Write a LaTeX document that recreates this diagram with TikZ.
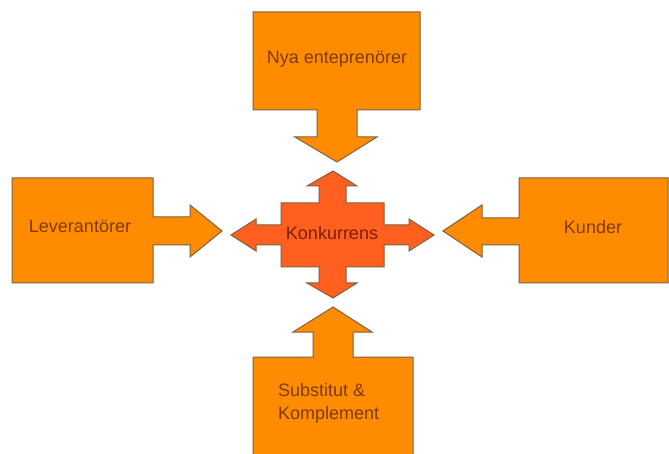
\documentclass[tikz,border=0pt]{standalone}
\usepackage{fontspec}
\setmainfont{Liberation Sans}
\definecolor{calloutfill}{HTML}{FF8C00}
\definecolor{crossfill}{HTML}{FF5F1F}
\definecolor{edgeline}{HTML}{7F6040}
\definecolor{labeltext}{HTML}{7F3A00}
\definecolor{crosstext}{HTML}{7A1E00}
\tikzset{
  callout/.style={fill=calloutfill, draw=edgeline, line width=1pt, line join=miter},
  crossshape/.style={fill=crossfill, draw=edgeline, line width=1pt, line join=miter},
  label/.style={text=labeltext, inner sep=0pt, font=\fontsize{18}{23}\selectfont},
  centerlabel/.style={text=crosstext, inner sep=0pt, font=\fontsize{18}{23}\selectfont}
}
\begin{document}
\begin{tikzpicture}[x=1pt,y=-1pt]
\useasboundingbox[fill=white] (0,0) rectangle (669,454);

% top callout pointing down
\draw[callout] (253,12) -- (420,12) -- (420,110) -- (357,110) -- (357,137) -- (377,137)
  -- (337,162) -- (295,137) -- (317,137) -- (317,110) -- (253,110) -- cycle;
% left callout pointing right
\draw[callout] (12,178) -- (153,178) -- (153,217) -- (190,217) -- (190,205) -- (222,231)
  -- (190,257) -- (190,245) -- (153,245) -- (153,283) -- (12,283) -- cycle;
% right callout pointing left
\draw[callout] (668,178) -- (519,178) -- (519,218) -- (482,218) -- (482,205) -- (443,231)
  -- (482,257) -- (482,245) -- (519,245) -- (519,283) -- (668,283) -- cycle;
% bottom callout pointing up
\draw[callout] (253,462) -- (253,357) -- (313,357) -- (313,332) -- (293,332) -- (333,307)
  -- (372,332) -- (353,332) -- (353,357) -- (413,357) -- (413,462);

% central four-way arrow
\draw[crossshape] (281,203) -- (319,203) -- (319,186) -- (307,186) -- (333,171) -- (357,186)
  -- (346,186) -- (346,203) -- (384,203) -- (384,225) -- (409,225) -- (409,219) -- (434,235)
  -- (409,251) -- (409,245) -- (384,245) -- (384,267) -- (346,267) -- (346,283) -- (357,283)
  -- (333,298) -- (307,283) -- (319,283) -- (319,267) -- (281,267) -- (281,245) -- (256,245)
  -- (256,251) -- (231,235) -- (256,219) -- (256,225) -- (281,225) -- cycle;

% labels
\node[label] (nya) at (337,59) {Nya enteprenörer};
\node[label] (lev) at (80,226) {Leverantörer};
\node[label] (kund) at (593,227) {Kunder};
\node[centerlabel] (konk) at (332,233) {Konkurrens};
\node[label, align=left, anchor=west] (subst) at (278,403) {Substitut \&\\Komplement};
\end{tikzpicture}
\end{document}
